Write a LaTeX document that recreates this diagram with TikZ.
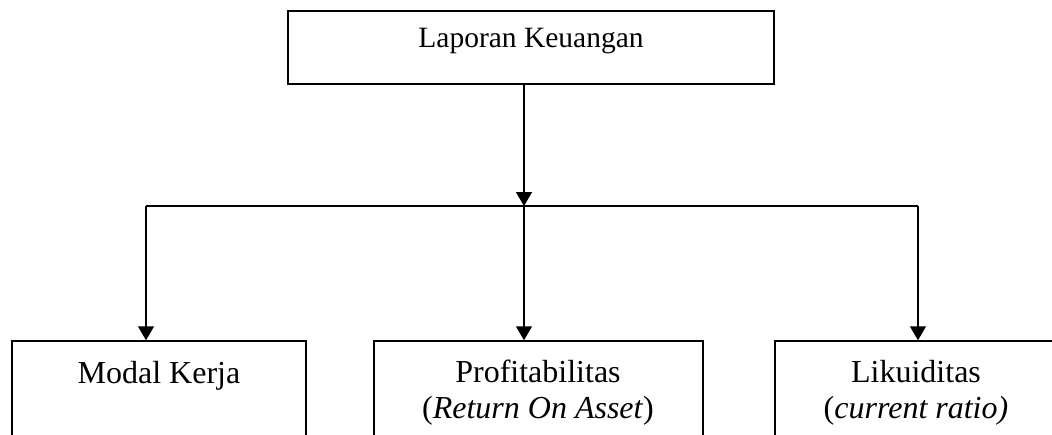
\documentclass[tikz,border=0pt]{standalone}
\usepackage{fontspec}
\setmainfont{Liberation Serif}
\usetikzlibrary{arrows.meta}
\begin{document}
\begin{tikzpicture}[x=1pt,y=-1pt,
  box/.style={draw, line width=1.5pt, rectangle, inner sep=0pt},
  lbl/.style={anchor=base, inner sep=0pt, align=center, font=\fontsize{29.5}{35.5}\selectfont},
  lblb/.style={lbl, font=\fontsize{32}{36}\selectfont},
  conn/.style={line width=1.5pt},
  arr/.style={line width=1.5pt, -{Triangle[length=14pt,width=16pt]}}]
\useasboundingbox (0,0) rectangle (1052,434);
\clip (0,0) rectangle (1052,434);
% boxes
\node[box, minimum width=486pt, minimum height=73pt] (lk) at (531,47.5) {};
\node[box, minimum width=294pt, minimum height=140pt] (mk) at (159,411) {};
\node[box, minimum width=329pt, minimum height=140pt] (pr) at (538.5,411) {};
\node[box, minimum width=284pt, minimum height=140pt] (li) at (917,411) {};
% texts
\node[lbl] (tlk) at (531,47) {Laporan Keuangan};
\node[lblb] (tmk) at (159,383) {Modal Kerja};
\node[lblb] (tpr) at (538,382) {Profitabilitas};
\node[lblb] (tpr2) at (538,418) {(\textit{Return On Asset})};
\node[lblb] (tli) at (916,382) {Likuiditas};
\node[lblb] (tli2) at (916,418) {(\textit{current ratio)}};
% connectors
\coordinate (j) at (524,206);
\coordinate (jl) at (146,206);
\coordinate (jr) at (918,206);
\draw[arr] (lk.south -| j) -- (j);
\draw[conn] (jl) -- (jr);
\draw[arr] (jl) -- (jl |- mk.north);
\draw[arr] (j) -- (j |- pr.north);
\draw[arr] (jr) -- (jr |- li.north);
\end{tikzpicture}
\end{document}
